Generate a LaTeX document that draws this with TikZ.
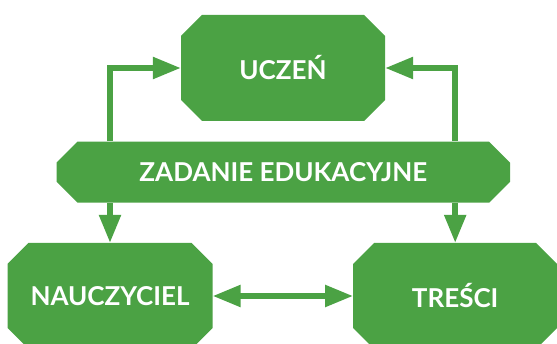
\documentclass[tikz,border=0pt]{standalone}
\usepackage{fontspec}
\setmainfont{Lato}
\usetikzlibrary{arrows.meta}
\definecolor{grn}{RGB}{75,162,68}
\newcommand{\chamf}{21pt}
\tikzset{
  box/.style={rectangle, draw=none, inner sep=0pt, text=white,
    font=\fontsize{26}{30}\selectfont\bfseries,
    path picture={\fill[grn]
      ([xshift=\chamf]path picture bounding box.north west) --
      ([xshift=-\chamf]path picture bounding box.north east) --
      ([yshift=-\chamf]path picture bounding box.north east) --
      ([yshift=\chamf]path picture bounding box.south east) --
      ([xshift=-\chamf]path picture bounding box.south east) --
      ([xshift=\chamf]path picture bounding box.south west) --
      ([yshift=\chamf]path picture bounding box.south west) --
      ([yshift=-\chamf]path picture bounding box.north west) -- cycle;}},
  conn/.style={draw=grn, line width=5.5pt, -{Triangle[length=28pt,width=21pt]}},
  connb/.style={draw=grn, line width=5.5pt, {Triangle[length=28pt,width=21pt]}-{Triangle[length=28pt,width=21pt]}}
}
\begin{document}
\begin{tikzpicture}[x=1pt,y=-1pt]
\useasboundingbox (0,0) rectangle (557,344);
\node[box, minimum width=204pt, minimum height=106pt] (ucz) at (283,68) {UCZEŃ};
\node[box, minimum width=453.5pt, minimum height=61pt] (zad) at (283.3,172.2) {ZADANIE EDUKACYJNE};
\node[box, minimum width=205pt, minimum height=106pt] (nau) at (110,296) {NAUCZYCIEL};
\node[box, minimum width=204pt, minimum height=106pt] (tre) at (455.2,296) {TREŚCI};
\draw[conn] (nau.north |- zad.north) |- (ucz.west);
\draw[conn] (nau.north |- zad.south) -- (nau.north);
\draw[conn] (tre.north |- zad.north) |- (ucz.east);
\draw[conn] (tre.north |- zad.south) -- (tre.north);
\draw[connb] (nau.east) -- (tre.west);
\end{tikzpicture}
\end{document}
